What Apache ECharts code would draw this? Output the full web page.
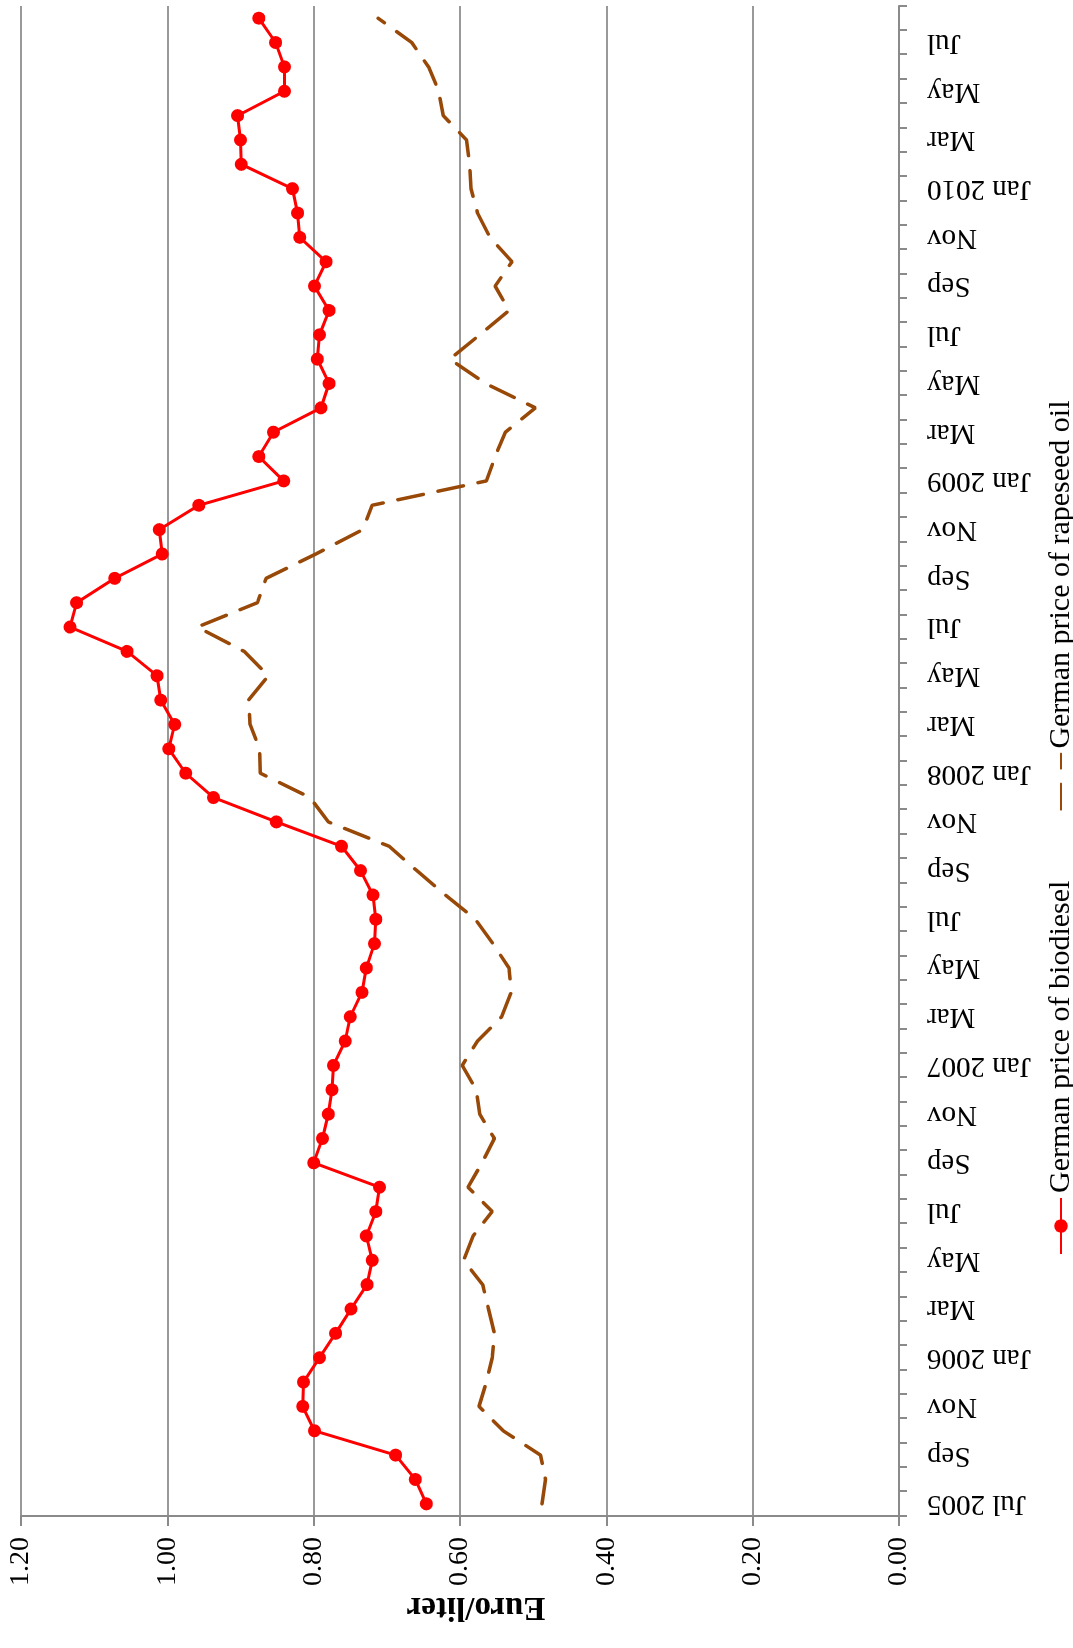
<!DOCTYPE html>
<html>
<head>
<meta charset="utf-8">
<title>German price of biodiesel and rapeseed oil</title>
<script src="https://cdn.jsdelivr.net/npm/echarts@6/dist/echarts.min.js"></script>
<style>
    html, body { margin: 0; padding: 0; background: #fff; }
    #page { position: relative; width: 1073px; height: 1648px; overflow: hidden; }
    /* chart is drawn landscape and turned a quarter to the left */
    #chart {
        position: absolute; left: 0; top: 0;
        width: 1648px; height: 1073px;
        transform-origin: 0 0;
        transform: translateY(1648px) rotate(-90deg);
    }
</style>
</head>
<body>
<div id="page"><div id="chart"></div></div>
<script>
var months = [
    'Jul 2005', 'Aug', 'Sep', 'Oct', 'Nov', 'Dec',
    'Jan 2006', 'Feb', 'Mar', 'Apr', 'May', 'Jun', 'Jul', 'Aug', 'Sep', 'Oct', 'Nov', 'Dec',
    'Jan 2007', 'Feb', 'Mar', 'Apr', 'May', 'Jun', 'Jul', 'Aug', 'Sep', 'Oct', 'Nov', 'Dec',
    'Jan 2008', 'Feb', 'Mar', 'Apr', 'May', 'Jun', 'Jul', 'Aug', 'Sep', 'Oct', 'Nov', 'Dec',
    'Jan 2009', 'Feb', 'Mar', 'Apr', 'May', 'Jun', 'Jul', 'Aug', 'Sep', 'Oct', 'Nov', 'Dec',
    'Jan 2010', 'Feb', 'Mar', 'Apr', 'May', 'Jun', 'Jul', 'Aug'
];

var biodiesel = [
    0.646, 0.661, 0.688, 0.799, 0.815, 0.814,
    0.792, 0.770, 0.749, 0.727, 0.720, 0.728, 0.715, 0.710, 0.800, 0.788, 0.780, 0.775,
    0.773, 0.757, 0.750, 0.734, 0.728, 0.717, 0.715, 0.719, 0.736, 0.762, 0.851, 0.937,
    0.975, 0.998, 0.990, 1.009, 1.014, 1.055, 1.133, 1.124, 1.072, 1.007, 1.011, 0.957,
    0.841, 0.875, 0.855, 0.790, 0.779, 0.795, 0.792, 0.779, 0.799, 0.783, 0.819, 0.822,
    0.829, 0.899, 0.900, 0.904, 0.840, 0.840, 0.852, 0.875
];

var rapeseedOil = [
    0.488, 0.483, 0.490, 0.541, 0.574, 0.564,
    0.556, 0.553, 0.561, 0.569, 0.595, 0.582, 0.556, 0.589, 0.570, 0.553, 0.573, 0.578,
    0.597, 0.576, 0.543, 0.530, 0.533, 0.555, 0.579, 0.620, 0.659, 0.697, 0.780, 0.805,
    0.873, 0.874, 0.887, 0.889, 0.862, 0.895, 0.959, 0.877, 0.865, 0.797, 0.733, 0.720,
    0.564, 0.552, 0.538, 0.497, 0.565, 0.614, 0.573, 0.533, 0.552, 0.529, 0.559, 0.576,
    0.585, 0.587, 0.591, 0.623, 0.629, 0.643, 0.666, 0.712
];

var seriesNames = ['German price of biodiesel', 'German price of rapeseed oil'];

var font = "'Liberation Serif', 'Times New Roman', serif";
var axisGray = '#8a8a8a';

var myChart = echarts.init(document.getElementById('chart'), null, { renderer: 'canvas' });

var option = {
    backgroundColor: '#fff',
    animation: false,
    textStyle: { fontFamily: font, color: '#000' },
    grid: { left: 132, right: 6, top: 21, bottom: 174 },
    legend: {
        data: [
            { name: seriesNames[0] },
            // dashed line only, no dot
            { name: seriesNames[1], itemStyle: { opacity: 0 } }
        ],
        left: 388,
        top: 1041,
        itemWidth: 56,
        itemHeight: 17,
        itemGap: 70,
        textStyle: { fontFamily: font, fontSize: 30, color: '#000' }
    },
    xAxis: {
        type: 'category',
        data: months,
        boundaryGap: true,
        axisLine: { lineStyle: { color: axisGray, width: 2 } },
        axisTick: { show: true, interval: 0, length: 8, lineStyle: { color: axisGray, width: 2 } },
        axisLabel: {
            interval: 1,
            rotate: 90,
            margin: 28,
            fontFamily: font,
            fontSize: 29,
            color: '#000'
        },
        splitLine: { show: false }
    },
    yAxis: {
        type: 'value',
        min: 0,
        max: 1.2,
        interval: 0.2,
        name: 'Euro/liter',
        nameLocation: 'middle',
        nameRotate: 90,
        nameGap: 74,
        nameMoveOverlap: false,
        nameTextStyle: { fontFamily: font, fontSize: 33, fontWeight: 'bold', color: '#000', padding: [0, 32, 0, 0] },
        axisLine: { show: true, lineStyle: { color: axisGray, width: 2 } },
        axisTick: { show: true, length: 10, lineStyle: { color: axisGray, width: 2 } },
        axisLabel: {
            margin: 21,
            fontFamily: font,
            fontSize: 28,
            color: '#000',
            formatter: function (v) { return v.toFixed(2); }
        },
        splitLine: { show: true, lineStyle: { color: '#999', width: 2 } }
    },
    series: [
        {
            name: seriesNames[0],
            type: 'line',
            data: biodiesel,
            symbol: 'circle',
            symbolSize: 13,
            showSymbol: true,
            color: '#ff0000',
            itemStyle: { color: '#ff0000' },
            lineStyle: { color: '#ff0000', width: 3 },
            z: 3
        },
        {
            name: seriesNames[1],
            type: 'line',
            data: rapeseedOil,
            symbol: 'none',
            color: '#984807',
            lineStyle: { color: '#984807', width: 3.5, type: [26, 15], cap: 'round' },
            z: 2
        }
    ]
};

myChart.setOption(option);
window.onresize = myChart.resize;
</script>
</body>
</html>
